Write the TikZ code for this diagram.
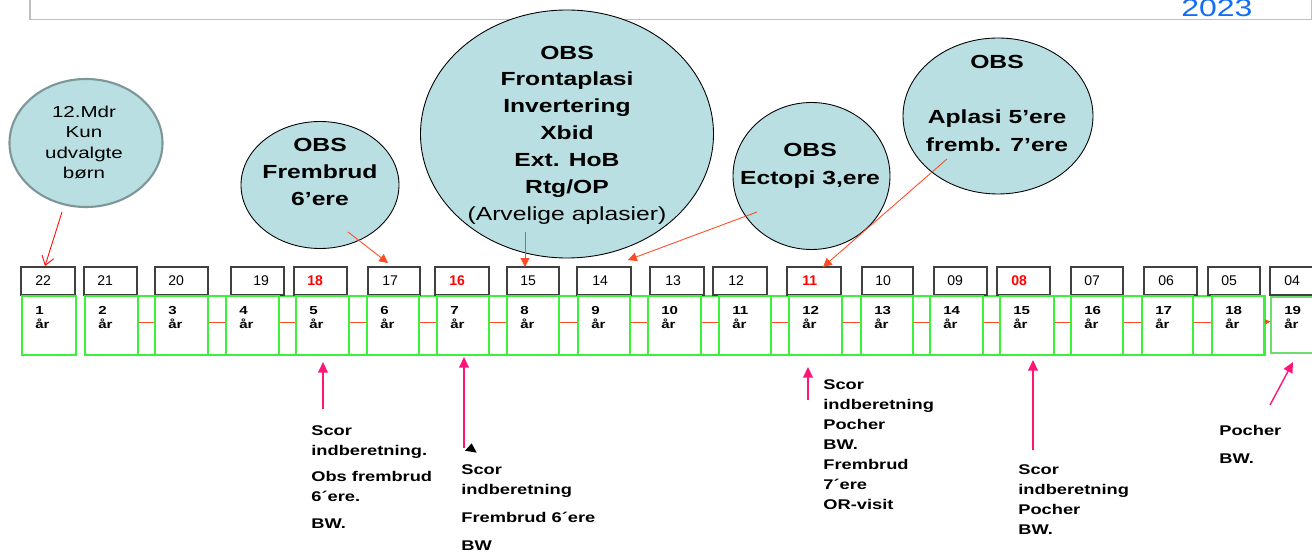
\documentclass[tikz,border=0pt]{standalone}
\usepackage{fontspec}
\setmainfont{Liberation Sans}
\newfontfamily\wf[FakeStretch=1.3]{Liberation Sans}
\newfontfamily\nf{Liberation Sans}
\usetikzlibrary{arrows.meta,shapes.geometric}
\definecolor{ellfill}{RGB}{185,223,226}
\definecolor{ellgray}{RGB}{125,150,152}
\definecolor{gbox}{RGB}{60,240,60}
\definecolor{gbox19}{RGB}{110,220,110}
\definecolor{oarrow}{RGB}{255,75,35}
\definecolor{parrow}{RGB}{255,20,120}
\definecolor{yblue}{RGB}{20,110,245}
\definecolor{frame}{RGB}{190,190,190}
\def\pxu{0.02cm}
\tikzset{
  ell/.style={ellipse, draw=black, line width=0.5pt, fill=ellfill, inner sep=0pt},
  elltxt/.style={align=center, inner sep=0pt, font=\wf\bfseries\fontsize{10.8}{15.3}\selectfont},
  ybox/.style={draw=black!75, line width=0.6pt, minimum height=28*\pxu, inner sep=0pt},
  ytxt/.style={anchor=west, inner sep=0pt, font=\nf\fontsize{8}{9}\selectfont},
  gboxs/.style={draw=gbox, line width=0.7pt, minimum height=59*\pxu, inner sep=0pt},
  gtxt/.style={anchor=north west, align=left, inner sep=0pt, font=\wf\bfseries\fontsize{6.6}{8}\selectfont},
  btxt/.style={anchor=north west, align=left, inner sep=0pt, font=\wf\bfseries\fontsize{8}{11.4}\selectfont},
  oarr/.style={draw=oarrow, line width=0.5pt, -{Triangle[length=5pt,width=5pt]}},
  parr/.style={draw=parrow, line width=0.8pt, -{Triangle[length=6pt,width=5.5pt]}},
  conn/.style={draw=oarrow, line width=0.5pt}
}
\begin{document}
\begin{tikzpicture}[x=0.02cm,y=-0.02cm]
\useasboundingbox (0,0) rectangle (1312,553);
% frame at top
\draw[frame, line width=0.8pt] (30,-20) -- (30,19.5) -- (1311.5,19.5) -- (1311.5,-20);
\node[anchor=base west, inner sep=0pt, text=yblue, font=\wf\fontsize{14}{16}\selectfont] (year) at (1181,16.7) {2023};

% ellipses
\node[ell, draw=ellgray, line width=1.2pt, minimum width=153*\pxu, minimum height=128*\pxu] (e1) at (86,143) {};
\node[align=center, inner sep=0pt, font=\wf\fontsize{9}{11.5}\selectfont] (e1t) at (84,142.5) {12.Mdr\\Kun\\udvalgte\\børn};

\node[ell, minimum width=158*\pxu, minimum height=127*\pxu] (e2) at (320,185) {};
\node[elltxt] (e2t) at (320,172) {OBS\\Frembrud\\6’ere};

\node[ell, minimum width=293*\pxu, minimum height=248*\pxu] (e3) at (567,134) {};
\node[elltxt] (e3t) at (567,135) {OBS\\Frontaplasi\\Invertering\\Xbid\\Ext. HoB\\Rtg/OP\\{\mdseries(Arvelige aplasier)}};

\node[ell, minimum width=157*\pxu, minimum height=147*\pxu] (e4) at (811.5,176) {};
\node[elltxt, font=\wf\bfseries\fontsize{10.8}{15.8}\selectfont] (e4t) at (810,166) {OBS\\Ectopi 3,ere};

\node[ell, minimum width=190*\pxu, minimum height=156*\pxu] (e5) at (998,116) {};
\node[elltxt, font=\wf\bfseries\fontsize{10.8}{15.6}\selectfont] (e5t) at (997,103.5) {OBS\\ \\Aplasi 5’ere\\fremb. 7’ere};

% outer green band
\draw[gbox, line width=1.2pt] (85,296) rectangle (1265,355);

% year boxes: name, left, right, label, offset, colour
\foreach \n/\l/\r/\t/\o/\c in {22/21/75/22/14/black, 21/84/137/21/13/black, 20/155/208/20/13/black,
  19/231/284/19/22/black, 18/294/347/18/13/red, 17/368/420/17/14/black, 16/435/489/16/14/red,
  15/507/559/15/13/black, 14/577/631/14/15/black, 13/650/704/13/15/black, 12/713/767/12/15/black,
  11/787/841/11/15/red, 10/862/913/10/13/black, 9/934/987/09/13/black, 8/997/1050/08/14/red,
  7/1071/1123/07/13/black, 6/1144/1197/06/14/black, 5/1208/1260/05/13/black, 4/1270/1330/04/14/black}{
  \pgfmathsetmacro{\w}{\r-\l}
  \pgfmathsetmacro{\m}{(\r+\l)/2}
  \node[ybox, fill=white, minimum width=\w*\pxu] (y\n) at (\m,281) {};
  \node[ytxt, text=\c] (yt\n) at (\l+\o,281) {\ifnum\pdfstrcmp{\c}{red}=0 \bfseries\fi\t};
}

% green boxes
\foreach \n/\l/\r in {1/22/76, 2/85/138, 3/155/208, 4/226/279, 5/296/349, 6/367/419, 7/437/489,
  8/507/559, 9/578/630, 10/648/701, 11/719/771, 12/789/842, 13/861/913, 14/930/983, 15/1000/1054,
  16/1071/1123, 17/1142/1193, 18/1212/1264}{
  \pgfmathsetmacro{\w}{\r-\l}
  \pgfmathsetmacro{\m}{(\r+\l)/2}
  \node[gboxs, fill=white, minimum width=\w*\pxu] (g\n) at (\m,325.5) {};
  \node[gtxt] (gt\n) at (\l+13,306) {\n\\år};
}
\node[gboxs, draw=gbox19, fill=white, minimum width=80*\pxu, minimum height=56*\pxu] (g19) at (1311,325) {};
\node[gtxt] (gt19) at (1284,306) {19\\år};

% red connectors between green boxes
\foreach \a/\b in {2/3,3/4,4/5,5/6,6/7,7/8,8/9,9/10,10/11,11/12,12/13,13/14,14/15,15/16,16/17,17/18}{
  \draw[conn] ([yshift=2pt]g\a.east) -- ([yshift=2pt]g\b.west);
}
\draw[conn, -{Triangle[length=3pt,width=3pt]}] ([yshift=2pt]g18.east) -- ([yshift=2pt]g19.west);

% arrows from ellipses to years
\coordinate (s1) at (62,212);  \coordinate (t1) at (45,266);
\coordinate (s2) at (348,232); \coordinate (t2) at (388,263);
\coordinate (s3) at (525,232); \coordinate (t3) at (525,267);
\coordinate (s4) at (757,212); \coordinate (t4) at (628,260);
\coordinate (s5) at (947,159); \coordinate (t5) at (823,267);
\draw[draw=red!90!orange, line width=0.5pt, -{Straight Barb[length=5pt,width=7pt]}] (s1) -- (t1);
\draw[oarr] (s2) -- (t2);
\draw[oarr] (s3) -- (t3);
\draw[oarr] (s4) -- (t4);
\draw[oarr] (s5) -- (t5);

% pink arrows
\coordinate (p1s) at (323,409);  \coordinate (p1t) at (323,362);
\coordinate (p2s) at (464,448);  \coordinate (p2t) at (464,357);
\coordinate (p3s) at (808,400);  \coordinate (p3t) at (808,367);
\coordinate (p4s) at (1033,450); \coordinate (p4t) at (1033,360);
\coordinate (p5s) at (1270,405); \coordinate (p5t) at (1293,362);
\foreach \k in {1,...,5}{ \draw[parr] (p\k s) -- (p\k t); }
\fill[black] (471.7,443.3) -- (476.7,452.7) -- (465,450.7) -- cycle;

% bottom texts
\node[btxt] (b1) at (311,425) {Scor\\indberetning.\\[3.8pt]Obs frembrud\\6´ere.\\[3.8pt]BW.};
\node[btxt] (b2) at (461,464) {Scor\\indberetning\\[4.5pt]Frembrud 6´ere\\[4.5pt]BW};
\node[btxt] (b3) at (823,379) {Scor\\indberetning\\Pocher\\BW.\\Frembrud\\7´ere\\OR-visit};
\node[btxt] (b4) at (1018,464) {Scor\\indberetning\\Pocher\\BW.};
\node[btxt] (b5) at (1219,425) {Pocher\\[4.8pt]BW.};
\end{tikzpicture}
\end{document}
